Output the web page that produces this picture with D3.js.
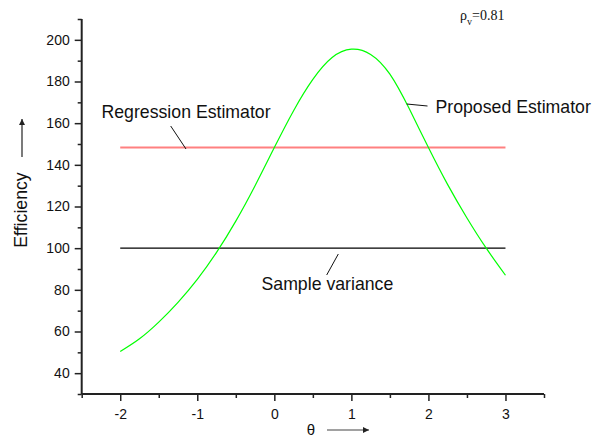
<!DOCTYPE html>
<html lang="en">
<head>
    <meta charset="utf-8">
    <title>Efficiency vs theta</title>
    <script src="https://d3js.org/d3.v7.min.js"></script>
    <style>
        body { margin: 0; background: #fff; }
        .chart text { font-family: "Liberation Sans", Arial, sans-serif; fill: #111; }
        .axis path { display: none; }
        .axis line { stroke: #222; stroke-width: 1.5; }
        .axis text { font-size: 14px; }
    </style>
</head>
<body>
<svg class="chart"></svg>
<script>
    // data
    var thetaVals = [-2, -1.75, -1.5, -1.25, -1, -0.75, -0.5, -0.25, 0, 0.25, 0.5, 0.75,
                     1, 1.25, 1.5, 1.75, 2, 2.25, 2.5, 2.75, 3];
    var proposedEff = [50.4, 56.5, 64.5, 74, 85, 98, 113, 130, 148.3, 166, 181, 191.5,
                       195.5, 193, 183.5, 167, 148.3, 130.5, 114.5, 100, 87];
    var flatTheta = [-2, 3];
    var regressionEff = [148.3, 148.3];
    var sampleEff = [100, 100];

    var xMajor = [-2, -1, 0, 1, 2, 3];
    var xMinor = [-2.5, -1.5, -0.5, 0.5, 1.5, 2.5, 3.5];
    var yMajor = [40, 60, 80, 100, 120, 140, 160, 180, 200];
    var yMinor = [30, 50, 70, 90, 110, 130, 150, 170, 190, 210];

    var width = 601,
        height = 439;

    var x = d3.scaleLinear().domain([-2.5, 3.5]).range([81.7, 544]);
    var y = d3.scaleLinear().domain([30, 210]).range([394, 19]);

    var chart = d3.select(".chart")
        .attr("width", width)
        .attr("height", height);

    var defs = chart.append("defs");
    defs.append("marker")
        .attr("id", "head")
        .attr("viewBox", "0 0 10 10")
        .attr("refX", 10).attr("refY", 5)
        .attr("markerWidth", 8).attr("markerHeight", 6)
        .attr("markerUnits", "userSpaceOnUse")
        .attr("orient", "auto")
        .append("path")
        .attr("d", "M0,0 L10,5 L0,10 Z")
        .attr("fill", "#222");

    // axes: minor ticks first, then major ticks with labels
    chart.append("g").attr("class", "axis")
        .attr("transform", "translate(" + x.range()[0] + ",0)")
        .call(d3.axisLeft(y).tickValues(yMinor).tickSize(4).tickFormat(""));
    chart.append("g").attr("class", "axis")
        .attr("transform", "translate(" + x.range()[0] + ",0)")
        .call(d3.axisLeft(y).tickValues(yMajor).tickSize(7).tickPadding(5));
    chart.append("g").attr("class", "axis")
        .attr("transform", "translate(0," + y.range()[0] + ")")
        .call(d3.axisBottom(x).tickValues(xMinor).tickSize(4).tickFormat(""));
    chart.append("g").attr("class", "axis")
        .attr("transform", "translate(0," + y.range()[0] + ")")
        .call(d3.axisBottom(x).tickValues(xMajor).tickSize(7).tickPadding(8)
            .tickFormat(function(d) { return String(d); }));

    chart.append("line")
        .attr("x1", x.range()[0]).attr("x2", x.range()[0])
        .attr("y1", y.range()[1]).attr("y2", y.range()[0])
        .attr("stroke", "#222").attr("stroke-width", 2);
    chart.append("line")
        .attr("x1", x.range()[0]).attr("x2", x.range()[1])
        .attr("y1", y.range()[0]).attr("y2", y.range()[0])
        .attr("stroke", "#222").attr("stroke-width", 2);

    // series
    var line = d3.line()
        .x(function(d) { return x(d[0]); })
        .y(function(d) { return y(d[1]); });

    chart.append("path")
        .datum(d3.zip(flatTheta, sampleEff))
        .attr("d", line)
        .attr("fill", "none").attr("stroke", "#000").attr("stroke-width", 1.2);

    chart.append("path")
        .datum(d3.zip(flatTheta, regressionEff))
        .attr("d", line)
        .attr("fill", "none").attr("stroke", "#ff8080").attr("stroke-width", 2);

    chart.append("path")
        .datum(d3.zip(thetaVals, proposedEff))
        .attr("d", line.curve(d3.curveNatural))
        .attr("fill", "none").attr("stroke", "#00ff00").attr("stroke-width", 1.2);

    // labels and leader lines
    function leader(x1, y1, x2, y2) {
        chart.append("line")
            .attr("x1", x1).attr("y1", y1).attr("x2", x2).attr("y2", y2)
            .attr("stroke", "#111").attr("stroke-width", 1);
    }

    chart.append("text").attr("x", 101.5).attr("y", 118)
        .style("font-size", "17.7px").text("Regression Estimator");
    leader(170.7, 126, 186, 149);

    chart.append("text").attr("x", 435.5).attr("y", 112.5)
        .style("font-size", "17.7px").text("Proposed Estimator");
    leader(406.7, 104, 427.5, 106);

    chart.append("text").attr("x", 261.5).attr("y", 290)
        .style("font-size", "17.7px").text("Sample variance");
    leader(326.7, 275, 338.3, 254);

    // axis titles
    chart.append("text")
        .attr("transform", "translate(27,210) rotate(-90)")
        .attr("text-anchor", "middle")
        .style("font-size", "17.7px").text("Efficiency");
    chart.append("line")
        .attr("x1", 22).attr("y1", 157).attr("x2", 22).attr("y2", 119)
        .attr("stroke", "#222").attr("stroke-width", 1.2)
        .attr("marker-end", "url(#head)");

    chart.append("text")
        .attr("x", 311).attr("y", 435)
        .attr("text-anchor", "middle")
        .style("font-size", "15px").text("θ");
    chart.append("line")
        .attr("x1", 327).attr("y1", 430).attr("x2", 369).attr("y2", 430)
        .attr("stroke", "#444").attr("stroke-width", 1.2)
        .attr("marker-end", "url(#head)");

    // correlation note
    var note = chart.append("text")
        .attr("x", 460).attr("y", 20)
        .style("font-family", "'Liberation Serif', 'Times New Roman', serif")
        .style("font-size", "14px");
    note.append("tspan").text("ρ");
    note.append("tspan").attr("dy", 5).style("font-size", "10px").text("v");
    note.append("tspan").attr("dy", -5).text("=0.81");
</script>
</body>
</html>
